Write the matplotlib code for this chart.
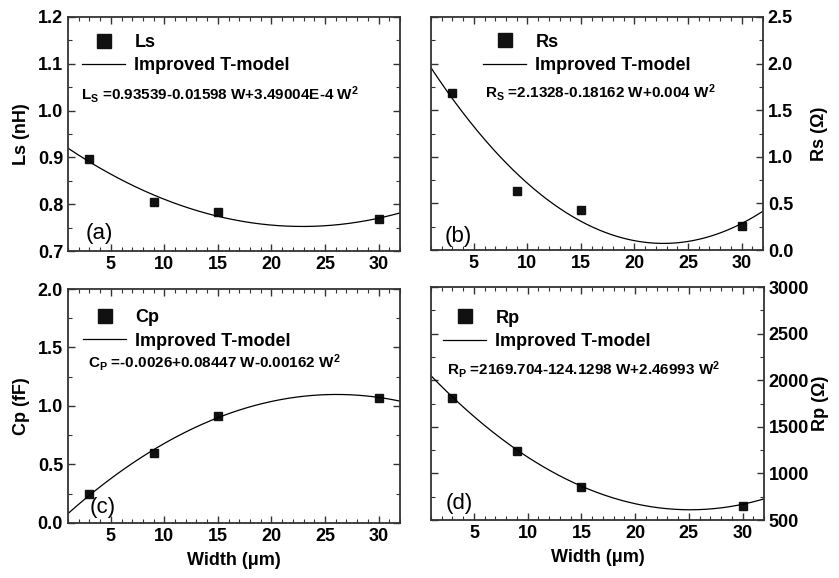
import numpy as np
import matplotlib
matplotlib.use("Agg")
import matplotlib.pyplot as plt
from matplotlib.ticker import MultipleLocator

plt.rcParams['font.family'] = ['Liberation Sans', 'DejaVu Sans']
plt.rcParams['font.weight'] = 'bold'
plt.rcParams['axes.labelweight'] = 'bold'
plt.rcParams['mathtext.fontset'] = 'custom'
plt.rcParams['mathtext.rm'] = 'Liberation Sans:bold'
plt.rcParams['mathtext.bf'] = 'Liberation Sans:bold'
plt.rcParams['mathtext.it'] = 'Liberation Sans:bold'

# --- measured widths and extracted parameters ---
width = [3, 9, 15, 30]
ls_meas = [0.896, 0.805, 0.783, 0.768]
rs_meas = [1.69, 0.632, 0.432, 0.26]
cp_meas = [0.248, 0.601, 0.915, 1.068]
rp_meas = [1807, 1238, 851, 654]

# quadratic fit coefficients (c0, c1, c2)
ls_fit = [0.93539, -0.01598, 3.49004e-4]
rs_fit = [2.1328, -0.18162, 0.004]
cp_fit = [-0.0026, 0.08447, -0.00162]
rp_fit = [2169.704, -124.1298, 2.46993]

ls_eq = r'$\mathrm{L_S}$ =0.93539-0.01598 W+3.49004E-4 W$^\mathrm{2}$'
rs_eq = r'$\mathrm{R_S}$ =2.1328-0.18162 W+0.004 W$^\mathrm{2}$'
cp_eq = r'$\mathrm{C_P}$ =-0.0026+0.08447 W-0.00162 W$^\mathrm{2}$'
rp_eq = r'$\mathrm{R_P}$ =2169.704-124.1298 W+2.46993 W$^\mathrm{2}$'

panels = [
    # name, meas, fit, eq, ylabel, ylim, major, minor, right, tag
    ("Ls", ls_meas, ls_fit, ls_eq, "Ls (nH)", (0.7, 1.2), 0.1, 0.05, False, "(a)"),
    ("Rs", rs_meas, rs_fit, rs_eq, "Rs (\u03a9)", (0.0, 2.5), 0.5, 0.25, True, "(b)"),
    ("Cp", cp_meas, cp_fit, cp_eq, "Cp (fF)", (0.0, 2.0), 0.5, 0.25, False, "(c)"),
    ("Rp", rp_meas, rp_fit, rp_eq, "Rp (\u03a9)", (500, 3000), 500, 250, True, "(d)"),
]

rects = [
    [0.081, 0.5657, 0.3957, 0.4049],
    [0.5137, 0.5674, 0.3957, 0.4032],
    [0.081, 0.0952, 0.3957, 0.4048],
    [0.5137, 0.1003, 0.3969, 0.4031],
]
legend_anchor = [(0.042, 0.928), (0.157, 0.928), (0.045, 0.913), (0.036, 0.903)]
eq_pos = [(0.04, 0.667), (0.163, 0.678), (0.06, 0.688), (0.048, 0.648)]
tag_pos = [(0.054, 0.077), (0.042, 0.058), (0.066, 0.068), (0.045, 0.069)]

fig = plt.figure(figsize=(8.39, 5.78), dpi=100)
w_dense = np.linspace(1, 32, 300)

for i, (name, meas, fit, eq, ylab, ylim, major, minor, right, tag) in enumerate(panels):
    ax = fig.add_axes(rects[i])
    c0, c1, c2 = fit
    ax.plot(width, meas, 's', color='#111111', markersize=5.5, label=name)
    ax.plot(w_dense, c0 + c1 * w_dense + c2 * w_dense ** 2, '-', color='black',
            linewidth=0.9, label='Improved T-model')

    ax.set_xlim(1, 32)
    ax.set_ylim(*ylim)
    ax.xaxis.set_major_locator(MultipleLocator(5))
    ax.xaxis.set_minor_locator(MultipleLocator(1))
    ax.yaxis.set_major_locator(MultipleLocator(major))
    ax.yaxis.set_minor_locator(MultipleLocator(minor))
    ax.set_xticks([5, 10, 15, 20, 25, 30])
    ax.tick_params(which='both', direction='in', top=True, right=True,
                   labelsize=13, color='#333333')
    ax.tick_params(which='major', length=5, width=1)
    ax.tick_params(which='minor', length=3, width=0.8)
    for sp in ax.spines.values():
        sp.set_color('#333333')
        sp.set_linewidth(1.3)

    if right:
        ax.tick_params(axis='y', labelleft=False, labelright=True)
        ax.yaxis.set_label_position('right')
        ax.set_ylabel(ylab, fontsize=13, rotation=90)
        ax.yaxis.set_label_coords(1.145, 0.5)
    else:
        ax.set_ylabel(ylab, fontsize=13)
        ax.yaxis.set_label_coords(-0.114, 0.5)

    if i >= 2:
        ax.set_xlabel("Width (\u03bcm)", fontsize=13)
        ax.xaxis.set_label_coords(0.5, -0.125)

    ax.legend(loc='upper left', bbox_to_anchor=legend_anchor[i], frameon=False,
              borderpad=0, borderaxespad=0, handlelength=2.4, handletextpad=0.5,
              labelspacing=0.35, markerscale=1.75, fontsize=13)
    ax.text(eq_pos[i][0], eq_pos[i][1], eq, transform=ax.transAxes,
            fontsize=11, va='center', ha='left')
    ax.text(tag_pos[i][0], tag_pos[i][1], tag, transform=ax.transAxes,
            fontsize=16, fontweight='normal', va='center', ha='left')

fig.savefig("out.png", dpi=100)
